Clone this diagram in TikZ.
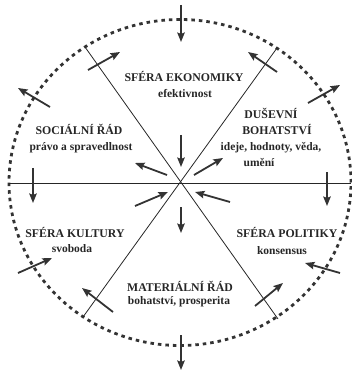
\documentclass[tikz,border=0pt]{standalone}
\usepackage{fontspec}
\setmainfont{Liberation Serif}
\usetikzlibrary{arrows.meta}
\begin{document}
\begin{tikzpicture}[x=1pt,y=-1pt,
  axis/.style={line width=0.8pt, draw=black!85},
  rim/.style={line width=2.8pt, draw=black!80, dash pattern=on 3.5pt off 4pt},
  arr/.style={line width=1.8pt, draw=black!80, -{Stealth[length=9.5pt,width=7.5pt,inset=1.5pt]}},
  head/.style={font=\bfseries\fontsize{11.8}{13}\selectfont, text=black!85, inner sep=0pt},
  sub/.style={font=\bfseries\fontsize{11.5}{13}\selectfont, text=black!85, inner sep=0pt}]
\useasboundingbox (0,0) rectangle (352,371);
% centre and axes
\coordinate (C) at (181,183);
\coordinate (UL) at (85,47);
\coordinate (UR) at (277,48);
\coordinate (LL) at (83,317);
\coordinate (LR) at (278,319);
\coordinate (HL) at (9,183);
\coordinate (HR) at (351,183);
\draw[rim] (180,182.5) ellipse [x radius=171pt, y radius=163pt];
\draw[axis] (UL) -- (LR);
\draw[axis] (UR) -- (LL);
\draw[axis] (HL) -- (HR);
% arrow end points
\foreach \n/\x/\y in {a1/181/5, b1/181/42, a2/181/135, b2/181/167,
  a3/167/175, b3/135/163, a4/194/175, b4/223/158,
  a5/135/206, b5/168/192, a6/230/202, b6/195/192,
  a7/181/207, b7/181/233, a8/181/335, b8/181/370,
  a9/88/70, b9/120/52, a10/50/107, b10/18/88,
  a11/277/72, b11/248/52, a12/308/103, b12/340/85,
  a13/18/273, b13/52/258, a14/113/312, b14/82/288,
  a15/255/306, b15/283/283, a16/340/273, b16/305/263,
  a17/33/168, b17/33/203, a18/327/172, b18/327/206}
  \coordinate (\n) at (\x,\y);
\foreach \i in {1,...,18} \draw[arr] (a\i) -- (b\i);
% texts
\node[head] (eko) at (184,76) {SFÉRA EKONOMIKY};
\node[sub] (eko2) at (185,94) {efektivnost};
\node[head] (soc) at (79,129) {SOCIÁLNÍ ŘÁD};
\node[sub] (soc2) at (81,148) {právo a spravedlnost};
\node[head] (dus) at (271,113) {DUŠEVNÍ};
\node[head] (dus2) at (277,130) {BOHATSTVÍ};
\node[sub] (dus3) at (271,148) {ideje, hodnoty, věda,};
\node[sub] (dus4) at (259,163) {umění};
\node[head] (kul) at (75,232) {SFÉRA KULTURY};
\node[sub] (kul2) at (72,249) {svoboda};
\node[head] (pol) at (287,232) {SFÉRA POLITIKY};
\node[sub] (pol2) at (282,251) {konsensus};
\node[head] (mat) at (180,286) {MATERIÁLNÍ ŘÁD};
\node[sub] (mat2) at (179,302) {bohatství, prosperita};
\end{tikzpicture}
\end{document}
